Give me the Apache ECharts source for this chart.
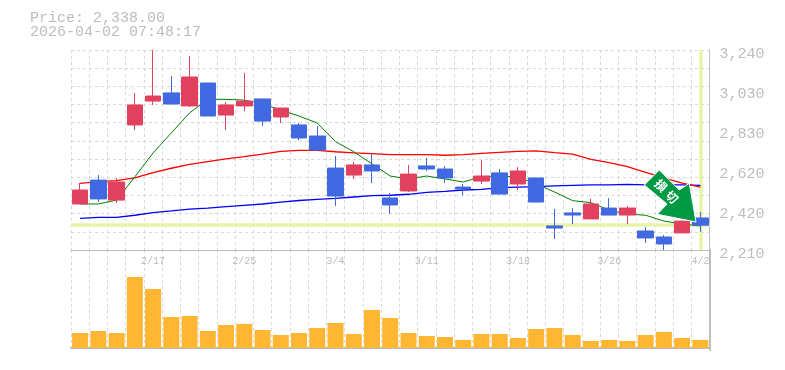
<!DOCTYPE html>
<html><head><meta charset="utf-8">
<style>html,body{margin:0;padding:0;background:#fff}#c{width:785px;height:370px}</style>
<script src="https://cdn.jsdelivr.net/npm/echarts@6/dist/echarts.min.js"></script>
</head><body><div id="c"></div>
<script>
const categories=['2/10','2/12','2/13','2/16','2/17','2/18','2/19','2/20','2/24','2/25','2/26','2/27','3/2','3/3','3/4','3/5','3/6','3/9','3/10','3/11','3/12','3/13','3/16','3/17','3/18','3/19','3/23','3/24','3/25','3/26','3/27','3/30','3/31','4/1','4/2'];
// [open, close, low, high]
const candles=[[2447,2519,2447,2555],[2570,2473,2457,2596],[2467,2560,2452,2581],[2854,2957,2828,3019],[2977,3003,2957,3240],[3019,2962,2957,3106],[2952,3101,2946,3209],[3070,2900,2900,3070],[2905,2957,2828,2972],[2952,2977,2926,3122],[2988,2874,2849,2988],[2895,2941,2864,2941],[2854,2787,2776,2864],[2797,2725,2725,2849],[2632,2488,2437,2694],[2596,2648,2576,2663],[2648,2617,2555,2704],[2478,2442,2395,2504],[2514,2601,2509,2648],[2643,2627,2617,2684],[2627,2581,2555,2643],[2534,2524,2493,2550],[2565,2591,2550,2673],[2607,2498,2498,2627],[2550,2617,2519,2637],[2581,2457,2457,2581],[2334,2323,2267,2421],[2401,2390,2344,2426],[2370,2447,2370,2473],[2426,2390,2390,2478],[2390,2426,2344,2437],[2308,2272,2246,2328],[2277,2241,2210,2287],[2298,2359,2298,2359],[2375,2338,2303,2406]];
const ma5=[2447,2447,2467,2587,2710,2813,2916,2986,2986,2982,2962,2931,2900,2864,2768,2716,2653,2591,2576,2591,2576,2560,2588,2591,2586,2550,2509,2464,2454,2416,2395,2389,2359,2344,2334];
const ma25=[2553,2562,2567,2582,2608,2631,2651,2665,2679,2691,2704,2718,2723,2723,2716,2710,2706,2701,2701,2701,2698,2701,2708,2713,2718,2720,2711,2704,2677,2660,2639,2610,2581,2555,2534];
const ma75=[2373,2378,2378,2389,2402,2411,2421,2426,2433,2440,2447,2457,2465,2471,2476,2483,2490,2492,2497,2507,2512,2519,2522,2531,2534,2536,2540,2543,2545,2545,2548,2545,2545,2545,2543];
const volumes=[150,170,150,710,590,310,320,170,230,240,180,130,150,200,250,140,380,300,150,120,110,80,140,140,100,190,200,130,70,80,70,130,160,100,80];
const priceTicks=[2210,2420,2620,2830,3030,3240];
const tickPositions=[2210,2416,2622,2828,3034,3240];
const lastPrice=2338;
const lastDate='4/2';
const headline=['Price: 2,338.00','2026-04-02 07:48:17'];
const labelled=['2/17','2/25','3/4','3/11','3/18','3/26','4/2'];

const FONT='"Liberation Mono","DejaVu Sans Mono",monospace';
const GREY='#bdbdbd',GRID='#d8d8d8';
const priceFmt=v=>{const i=tickPositions.indexOf(v);return i<0?'':priceTicks[i].toLocaleString('en-US')};
const chart=echarts.init(document.getElementById('c'),null,{renderer:'canvas'});
const L=71,W=638.5;
chart.setOption({
 animation:false,backgroundColor:'#fff',
 title:[{left:25,top:6,text:headline[0],textStyle:{fontFamily:FONT,fontSize:15,fontWeight:'normal',color:GREY}},
        {left:25,top:20,text:headline[1],textStyle:{fontFamily:FONT,fontSize:15,fontWeight:'normal',color:GREY}}],
 grid:[{left:L,width:W,top:50,height:200},{left:L,width:W,top:250,height:100}],
 xAxis:[
  {type:'category',gridIndex:0,data:categories,boundaryGap:true,
   axisLine:{show:true,lineStyle:{color:GREY,width:1}},axisTick:{show:false},
   axisLabel:{show:true,interval:0,margin:6,fontFamily:FONT,fontSize:10,color:GREY,formatter:v=>labelled.includes(v)?v:''},
   splitLine:{show:true,interval:0,lineStyle:{color:GRID,type:[3,3],width:1}}},
  {type:'category',gridIndex:1,data:categories,boundaryGap:true,
   axisLine:{show:true,lineStyle:{color:GREY,width:2}},axisTick:{show:false},axisLabel:{show:false},
   splitLine:{show:true,interval:0,lineStyle:{color:GRID,type:[3,3],width:1}}}
 ],
 yAxis:[
  {type:'value',gridIndex:0,position:'right',min:2210,max:3240,
   axisLine:{show:true,lineStyle:{color:GREY,width:1}},axisTick:{show:false},splitLine:{show:false},
   axisLabel:{show:true,customValues:tickPositions,margin:10,verticalAlign:'top',lineHeight:8,fontFamily:FONT,fontSize:15,color:GREY,formatter:priceFmt}},
  {type:'value',gridIndex:0,position:'left',min:0,max:11,interval:1,
   axisLine:{show:false},axisTick:{show:false},axisLabel:{show:false},
   splitLine:{show:true,lineStyle:{color:GRID,type:[3,3],width:1}}},
  {type:'value',gridIndex:1,position:'right',min:-20,max:980,
   axisLine:{show:true,lineStyle:{color:GREY,width:2}},axisTick:{show:false},axisLabel:{show:false},splitLine:{show:false}}
 ],
 series:[
  {type:'line',name:'highlight',xAxisIndex:0,yAxisIndex:0,data:[],z:1,
   markLine:{silent:true,symbol:'none',label:{show:false},animation:false,z:1,
    lineStyle:{color:'#e6f5a8',width:3.5,type:'solid'},
    data:[{yAxis:lastPrice},{xAxis:lastDate}]}},
  {type:'line',name:'MA75',data:ma75,xAxisIndex:0,yAxisIndex:0,showSymbol:false,symbol:'none',z:2,lineStyle:{color:'#0000ff',width:1.3}},
  {type:'line',name:'MA25',data:ma25,xAxisIndex:0,yAxisIndex:0,showSymbol:false,symbol:'none',z:2,lineStyle:{color:'#ff0000',width:1.3}},
  {type:'line',name:'MA5',data:ma5,xAxisIndex:0,yAxisIndex:0,showSymbol:false,symbol:'none',z:2,lineStyle:{color:'#008000',width:1}},
  {type:'candlestick',name:'Price',data:candles,xAxisIndex:0,yAxisIndex:0,barWidth:16,z:3,clip:true,
   itemStyle:{color:'#e2405f',color0:'#4169e1',borderColor:'#e2405f',borderColor0:'#4169e1',borderWidth:1}},
  {type:'bar',name:'Volume',data:volumes,xAxisIndex:1,yAxisIndex:2,barWidth:16,z:3,itemStyle:{color:'#ffb733'}}
 ],
 graphic:[
  {type:'polygon',z:100,shape:{points:[[659.3,170],[679.3,190],[689.3,183.3],[696,222],[657.3,214.3],[667,204],[644.3,185]]},
   style:{fill:'#009944',stroke:'#fff',lineWidth:1}},
  {type:'text',z:101,x:661,y:185.5,rotation:-Math.PI/4,style:{text:'損',fill:'#fff',font:'bold 12px "Noto Sans CJK JP"',align:'center',verticalAlign:'middle'}},
  {type:'text',z:101,x:672,y:197,rotation:-Math.PI/4,style:{text:'切',fill:'#fff',font:'bold 12px "Noto Sans CJK JP"',align:'center',verticalAlign:'middle'}}
 ]
});
</script></body></html>
